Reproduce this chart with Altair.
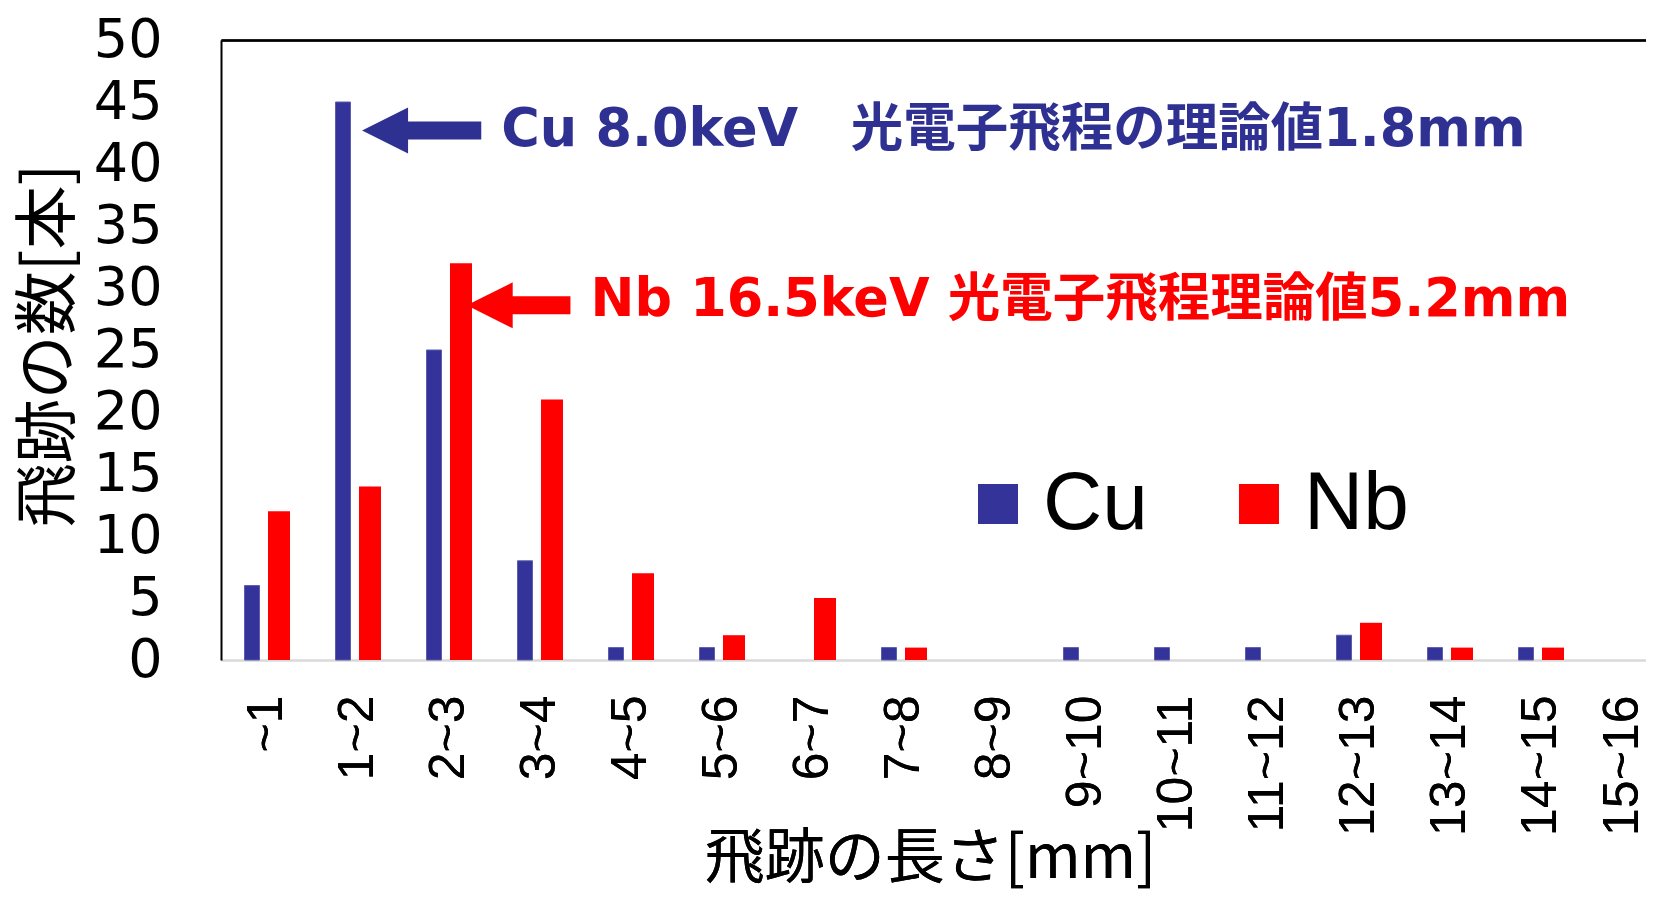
import altair as alt
import pandas as pd

# ---- data ----
categories = ["~1", "1~2", "2~3", "3~4", "4~5", "5~6", "6~7", "7~8",
              "8~9", "9~10", "10~11", "11~12", "12~13", "13~14", "14~15", "15~16"]
cu_counts = [6, 45, 25, 8, 1, 1, 0, 1, 0, 1, 1, 1, 2, 1, 1, 0]
nb_counts = [12, 14, 32, 21, 7, 2, 5, 1, 0, 0, 0, 0, 3, 1, 1, 0]
series_names = ["Cu", "Nb"]
series_colors = ["#333399", "#FF0000"]
y_ticks = [0, 5, 10, 15, 20, 25, 30, 35, 40, 45, 50]

ann_text = ["Cu 8.0keV\u3000光電子飛程の理論値1.8mm", "Nb 16.5keV 光電子飛程理論値5.2mm"]
ann_color = ["#2E3192", "#FF0000"]
ann_text_x = [3.08, 4.06]      # in category-band units
ann_text_y = [42.75, 29.0]
arrow_tip_x = [1.55, 2.70]
arrow_tail_x = [2.86, 3.84]
arrow_y = [42.7, 28.6]

# ---- tables ----
rows = []
for c, a, b in zip(categories, cu_counts, nb_counts):
    rows.append({"category": c, "series": "Cu", "value": a})
    rows.append({"category": c, "series": "Nb", "value": b})
bars_df = pd.DataFrame(rows)

ann_df = pd.DataFrame({
    "text": ann_text, "color": ann_color,
    "tx": ann_text_x, "value": ann_text_y,
    "tip": arrow_tip_x, "shaft0": [t + 0.35 for t in arrow_tip_x],
    "tail": arrow_tail_x, "ay": arrow_y,
})

BAND = 91
N = len(categories)
y_scale = alt.Scale(domain=[0, 50], nice=False)
y_axis = alt.Axis(
    orient="left",
    title="飛跡の数[本]", values=y_ticks, ticks=False, tickSize=0, labelPadding=59,
    labelFont="DejaVu Sans", labelFontSize=54, labelColor="black",
    domainColor="black", domainWidth=2, grid=False, labelOverlap=False,
    titleFont="Noto Sans CJK JP", titleFontSize=64, titleFontWeight="normal",
    titleColor="black", titleX=-172, titleY=305, titleAlign="center",
    titleBaseline="middle", titleAngle=270,
)

x_band = alt.X(
    "category:N", sort=categories,
    scale=alt.Scale(domain=categories, range=[0, BAND * N], paddingInner=0, paddingOuter=0),
    axis=alt.Axis(
        orient="bottom",
        title="飛跡の長さ[mm]", labelAngle=-90, labelFont="Liberation Sans",
        labelFontSize=50, labelColor="black", labelPadding=35, ticks=False, tickSize=0,
        labelOffset={"condition": {"test": "datum.value === '15~16'", "value": -9}, "value": 0},
        domainColor="#D9D9D9", domainWidth=2, grid=False, labelOverlap=False,
        titleFont="Noto Sans CJK JP", titleFontSize=60, titleFontWeight="normal",
        titleColor="black", titleX=709, titleY=199, titleAlign="center",
        titleBaseline="middle",
    ),
)
y_val = alt.Y("value:Q", scale=y_scale, axis=y_axis)
color = alt.Color(
    "series:N", scale=alt.Scale(domain=series_names, range=series_colors),
    legend=alt.Legend(
        title=None, orient="none", legendX=736, legendY=423, direction="horizontal",
        symbolType="square", symbolSize=1600, symbolStrokeWidth=0, symbolOpacity=1,
        labelFont="Liberation Sans", labelFontSize=82, labelColor="black",
        labelOffset=4, columnPadding=70, padding=0,
    ),
)

base = alt.Chart(bars_df)
cu_bars = base.transform_filter(
    (alt.datum.series == "Cu") & (alt.datum.value > 0)
).mark_bar(width=15, xOffset=-14.5, stroke="#5B5BB0", strokeWidth=1).encode(
    x=x_band, y=y_val, color=color)
nb_bars = base.transform_filter(
    (alt.datum.series == "Nb") & (alt.datum.value > 0)
).mark_bar(width=22, xOffset=12.5).encode(
    x=x_band, y=y_val, color=color)

x_lin_axis = alt.Axis(orient="top", labels=False, ticks=False, tickSize=0, grid=False,
                      title=None, domainColor="black", domainWidth=2)
lin_scale = alt.Scale(domain=[0, N], range=[0, BAND * N], nice=False, zero=False)

ann = alt.Chart(ann_df)
texts = ann.mark_text(
    align="left", baseline="middle", font="DejaVu Sans, Noto Sans CJK JP",
    fontSize=52.5, fontWeight="bold",
).encode(
    x=alt.X("tx:Q", scale=lin_scale, axis=x_lin_axis),
    y=y_val,
    text="text:N", color=alt.Color("color:N", scale=None),
)
shafts = ann.mark_rule(strokeWidth=18, strokeCap="butt").encode(
    x=alt.X("shaft0:Q", scale=lin_scale, axis=x_lin_axis), x2="tail:Q",
    y=alt.Y("ay:Q", scale=y_scale, axis=y_axis),
    color=alt.Color("color:N", scale=None),
)
heads = ann.mark_point(shape="M0,0L2,-1L2,1Z", size=2116, filled=True, opacity=1,
                       strokeWidth=0).encode(
    x=alt.X("tip:Q", scale=lin_scale, axis=x_lin_axis),
    y=alt.Y("ay:Q", scale=y_scale, axis=y_axis),
    color=alt.Color("color:N", scale=None),
)

chart = alt.layer(cu_bars, nb_bars, texts, shafts, heads).resolve_scale(
    x="independent"
).properties(
    width=1425, height=620,
    autosize=alt.AutoSizeParams(type="none"),
    padding={"left": 213, "top": 32, "right": 0, "bottom": 236},
    background="white",
).configure_view(stroke=None)

chart.save("out.html", embed_options={"renderer": "svg", "actions": False})
